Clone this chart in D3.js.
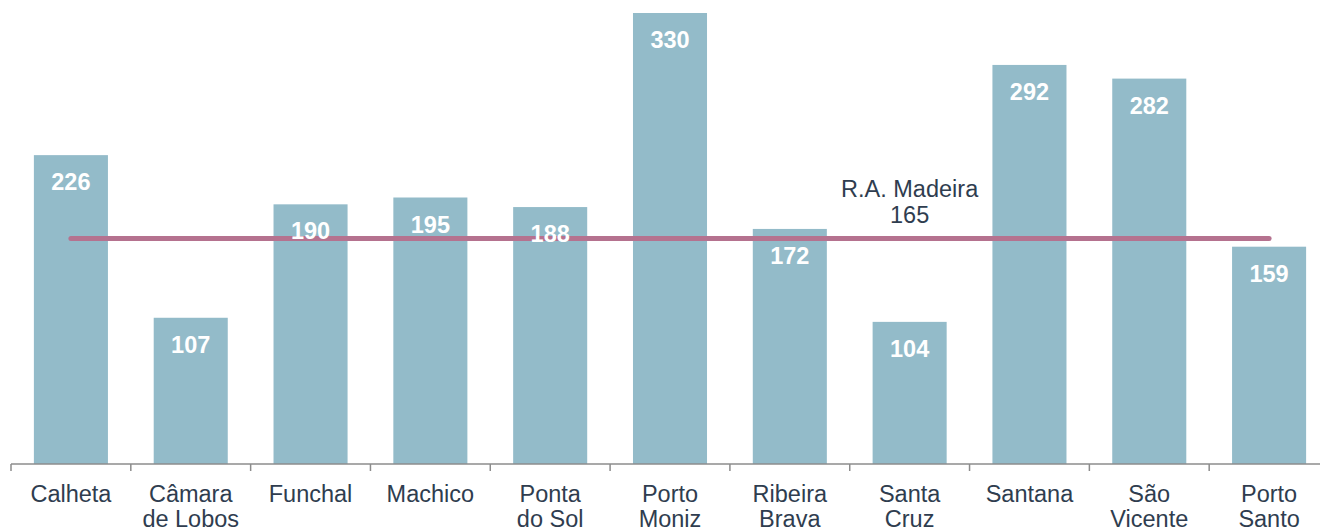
<!DOCTYPE html>
<html>
<head>
<meta charset="utf-8">
<script src="https://cdn.jsdelivr.net/npm/d3@7"></script>
<style>
  html, body { margin: 0; padding: 0; background: #fff; }
  svg { display: block; }
  text { font-family: "Liberation Sans", Arial, sans-serif; }
</style>
</head>
<body>
<svg id="chart" width="1320" height="528"></svg>
<script>
const categories = [
  ["Calheta"], ["Câmara", "de Lobos"], ["Funchal"], ["Machico"], ["Ponta", "do Sol"],
  ["Porto", "Moniz"], ["Ribeira", "Brava"], ["Santa", "Cruz"], ["Santana"], ["São", "Vicente"], ["Porto", "Santo"]
];
const values = [226, 107, 190, 195, 188, 330, 172, 104, 292, 282, 159];
const referenceLabel = ["R.A. Madeira", "165"];
const referenceValue = 165;

const W = 1320, H = 528;
const svg = d3.select("#chart");
const keys = categories.map(c => c.join(" "));

const pad = 0.382;
const x = d3.scaleBand().domain(keys).range([11, 1329]).paddingInner(pad).paddingOuter(pad / 2);
const y = d3.scaleLinear().domain([0, 330]).range([464, 13]);
const step = x.step();

const barColor = "#93bbc9";
const textColor = "#2f3d4f";

// bars
svg.append("g").selectAll("rect").data(values).join("rect")
  .attr("x", (d, i) => x(keys[i]))
  .attr("y", d => y(d))
  .attr("width", x.bandwidth())
  .attr("height", d => y(0) - y(d))
  .attr("fill", barColor);

// axis line + ticks
const axisG = svg.append("g");
axisG.append("line")
  .attr("x1", x.range()[0]).attr("x2", W)
  .attr("y1", y(0)).attr("y2", y(0))
  .attr("stroke", "#8c8c8c").attr("stroke-width", 1.5);
const tickXs = keys.map(k => x(k) - x.paddingInner() * step / 2).concat([x(keys[keys.length - 1]) + x.bandwidth() + x.paddingInner() * step / 2]);
axisG.selectAll("line.tick").data(tickXs).join("line")
  .attr("class", "tick")
  .attr("x1", d => d).attr("x2", d => d)
  .attr("y1", y(0)).attr("y2", y(0) + 7)
  .attr("stroke", "#8c8c8c").attr("stroke-width", 1.5);

// category labels
const labG = svg.append("g");
categories.forEach((lines, i) => {
  const t = labG.append("text")
    .attr("x", x(keys[i]) + x.bandwidth() / 2)
    .attr("y", 502)
    .attr("text-anchor", "middle")
    .attr("fill", textColor)
    .attr("font-size", "23.5px");
  lines.forEach((l, j) => {
    t.append("tspan").attr("x", x(keys[i]) + x.bandwidth() / 2).attr("dy", j === 0 ? 0 : 25).text(l);
  });
});

// reference line
svg.append("line")
  .attr("x1", x(keys[0]) + x.bandwidth() / 2)
  .attr("x2", x(keys[keys.length - 1]) + x.bandwidth() / 2)
  .attr("y1", y(referenceValue)).attr("y2", y(referenceValue))
  .attr("stroke", "#b5728f").attr("stroke-width", 5).attr("stroke-linecap", "round");

// value labels
svg.append("g").selectAll("text").data(values).join("text")
  .attr("x", (d, i) => x(keys[i]) + x.bandwidth() / 2)
  .attr("y", d => y(d) + 35)
  .attr("text-anchor", "middle")
  .attr("fill", "#ffffff")
  .attr("font-weight", "bold")
  .attr("font-size", "23.5px")
  .text(d => d);

// reference label
const refX = x("Santa Cruz") + x.bandwidth() / 2;
const rt = svg.append("text")
  .attr("x", refX).attr("y", 197)
  .attr("text-anchor", "middle")
  .attr("fill", textColor)
  .attr("font-size", "23.5px");
rt.append("tspan").attr("x", refX).attr("dy", 0).text(referenceLabel[0]);
rt.append("tspan").attr("x", refX).attr("dy", 26).text(referenceLabel[1]);
</script>
</body>
</html>
